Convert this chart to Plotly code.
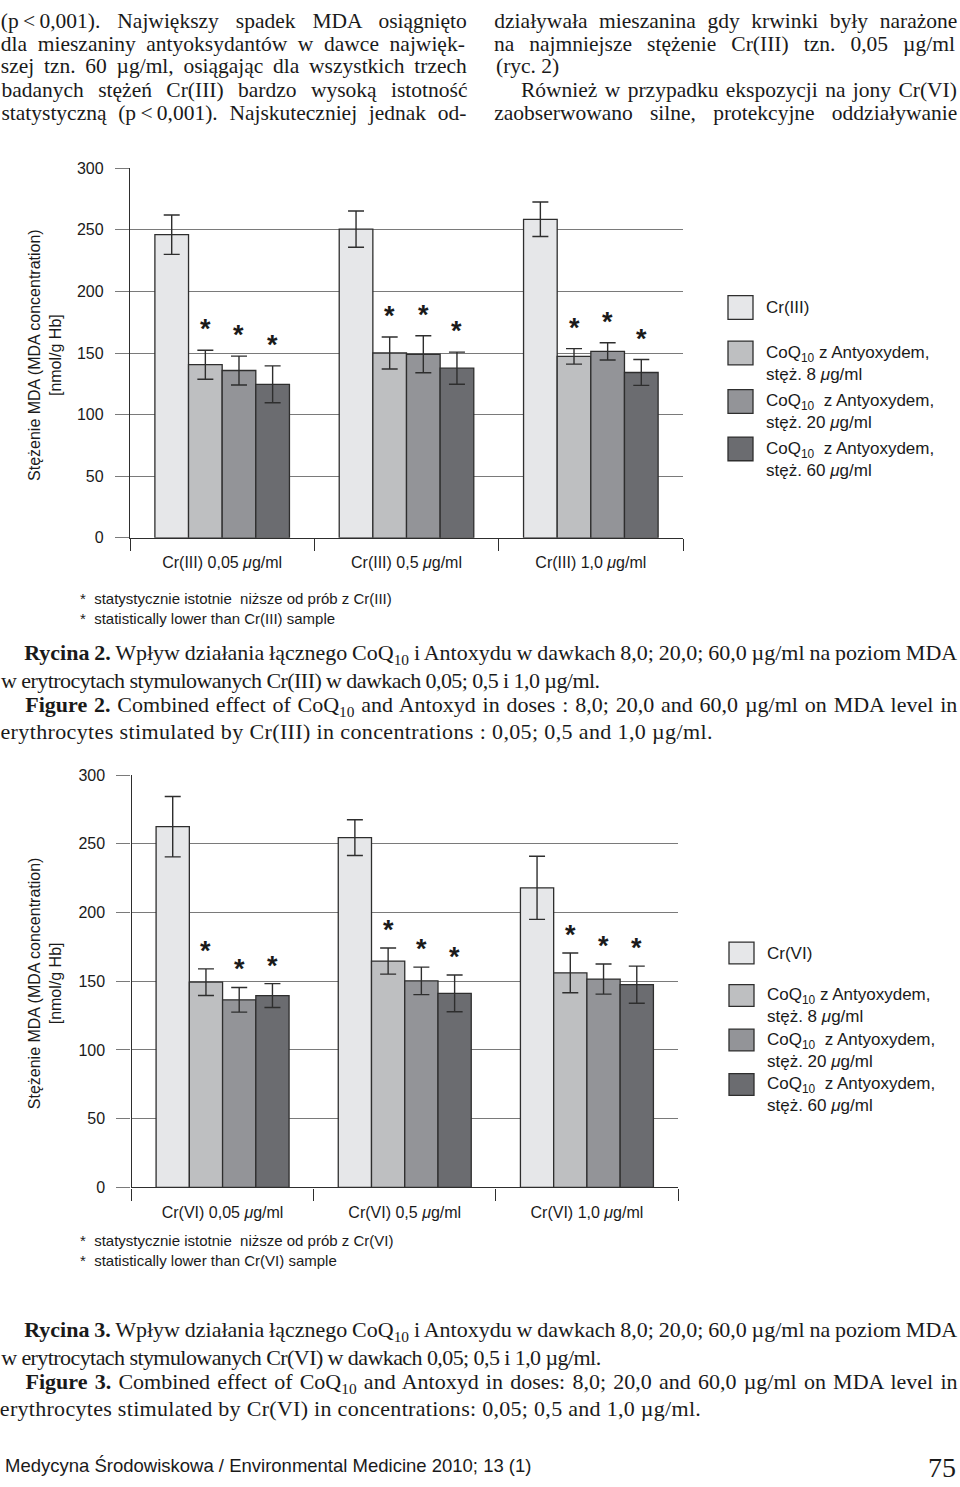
import json
import plotly.graph_objects as go

W, H = 960, 1487

# ---------------- data ----------------
series_labels = [
    "Cr(III)",
    "CoQ<sub>10</sub> z Antyoxydem,<br>stęż. 8 <i>μ</i>g/ml",
    "CoQ<sub>10</sub>  z Antyoxydem,<br>stęż. 20 <i>μ</i>g/ml",
    "CoQ<sub>10</sub>  z Antyoxydem,<br>stęż. 60 <i>μ</i>g/ml",
]
series_labels_vi = ["Cr(VI)"] + series_labels[1:]

cr3_categories = ["Cr(III) 0,05 <i>μ</i>g/ml", "Cr(III) 0,5 <i>μ</i>g/ml", "Cr(III) 1,0 <i>μ</i>g/ml"]
cr3_control = [246, 250.5, 258.5]
cr3_control_err = [16, 14.7, 14]
cr3_coq8 = [140.5, 150, 147.3]
cr3_coq8_err = [11.8, 13, 6.3]
cr3_coq20 = [135.8, 149, 151.3]
cr3_coq20_err = [11.7, 15, 7]
cr3_coq60 = [124.6, 137.7, 134.2]
cr3_coq60_err = [15, 13, 10.5]
cr3_signif = [[False] * 3, [True] * 3, [True] * 3, [True] * 3]

cr6_categories = ["Cr(VI) 0,05 <i>μ</i>g/ml", "Cr(VI) 0,5 <i>μ</i>g/ml", "Cr(VI) 1,0 <i>μ</i>g/ml"]
cr6_control = [262.5, 254.5, 218]
cr6_control_err = [22, 13, 23]
cr6_coq8 = [149.3, 164.7, 156.1]
cr6_coq8_err = [9.7, 9.5, 14.5]
cr6_coq20 = [136.5, 150.3, 151.6]
cr6_coq20_err = [9, 10, 11]
cr6_coq60 = [139.6, 141.2, 147.5]
cr6_coq60_err = [8.7, 13.4, 13.5]
cr6_signif = [[False] * 3, [True] * 3, [True] * 3, [True] * 3]

y_ticks = [0, 50, 100, 150, 200, 250, 300]

# ---------------- style ----------------
colors = ["#e6e7e9", "#bebfc1", "#939498", "#6b6c70"]
edge = "#2e2e2e"
grid = "#7a7a7a"
sans = "Liberation Sans, Arial, sans-serif"
serif = "Liberation Serif, Times New Roman, serif"
ink = "#1a1a1a"
BARGAP = 0.27
TS = "\u2009"  # thin space (not stretched by justification)


def px(x):
    return x / W


def py(y):
    return 1 - y / H


fig = go.Figure()
annotations = []
shapes = []
justify_widths = {}  # annotation index -> width, stretched by word spacing
fit_widths = {}      # annotation index -> width, fitted by letter spacing


def add_line(text, x0, x1, yc, family, size, mode):
    if mode == "left":
        annotations.append(dict(
            x=px(x0), y=py(yc), xref="paper", yref="paper", text=text,
            showarrow=False, xanchor="left", yanchor="middle",
            font=dict(family=family, size=size, color=ink),
        ))
        return
    annotations.append(dict(
        x=px((x0 + x1) / 2), y=py(yc), xref="paper", yref="paper", text=text,
        showarrow=False, xanchor="center", yanchor="middle",
        font=dict(family=family, size=size, color=ink),
    ))
    key = str(len(annotations) - 1)
    if mode == "justify":
        justify_widths[key] = x1 - x0
    else:
        fit_widths[key] = x1 - x0


def add_chart(idx, cats, means, errs, signif, xdom_px, ydom_px, star_shift, legend_labels,
              legend_x, legend_rows, legend_h, foot_y, foot_texts, cat_standoff):
    xa = "x" if idx == 1 else "x%d" % idx
    ya = "y" if idx == 1 else "y%d" % idx
    for k in range(4):
        fig.add_trace(go.Bar(
            x=cats, y=means[k], xaxis=xa, yaxis=ya,
            marker=dict(color=colors[k], line=dict(color=edge, width=1.3)),
            error_y=dict(type="data", array=errs[k], color=edge, thickness=1.4, width=8),
            showlegend=False, hoverinfo="skip",
        ))
    plot_w = xdom_px[1] - xdom_px[0]
    bar_w = plot_w / len(cats) * (1 - BARGAP) / 4
    for k in range(4):
        for i, c in enumerate(cats):
            if signif[k][i]:
                annotations.append(dict(
                    x=c, y=means[k][i] + errs[k][i], xref=xa, yref=ya,
                    text="<b>*</b>", showarrow=False, xanchor="center", yanchor="middle",
                    xshift=(k - 1.5) * bar_w, yshift=star_shift,
                    font=dict(family=sans, size=27, color=ink),
                ))
    axis_x = dict(
        domain=[px(xdom_px[0]), px(xdom_px[1])], type="category", categoryorder="array",
        categoryarray=cats, range=[-0.5, len(cats) - 0.5], showline=True, linecolor=edge,
        linewidth=1.3, ticks="outside", tickson="boundaries", ticklen=12, tickcolor=edge,
        tickwidth=1.3, showgrid=False, zeroline=False, anchor=ya,
        tickfont=dict(family=sans, size=16, color=ink), ticklabelstandoff=cat_standoff,
    )
    axis_y = dict(
        domain=[py(ydom_px[1]), py(ydom_px[0])], range=[0, 300], tickvals=y_ticks,
        showgrid=True, gridcolor=grid, gridwidth=1, ticks="outside", ticklen=14,
        tickcolor=grid, tickwidth=1, showline=True, linecolor=edge, linewidth=1.3,
        zeroline=False, anchor=xa, tickfont=dict(family=sans, size=16, color=ink),
        ticklabelstandoff=8,
    )
    fig.update_layout(**{("xaxis" if idx == 1 else "xaxis%d" % idx): axis_x,
                         ("yaxis" if idx == 1 else "yaxis%d" % idx): axis_y})
    # y title
    annotations.append(dict(
        x=px(45), y=py((ydom_px[0] + ydom_px[1]) / 2 + 2), xref="paper", yref="paper",
        text="Stężenie MDA (MDA concentration)<br>[nmol/g Hb]", textangle=-90,
        showarrow=False, xanchor="center", yanchor="middle",
        font=dict(family=sans, size=16, color=ink),
    ))
    # custom legend
    for k in range(4):
        top = legend_rows[k]
        shapes.append(dict(
            type="rect", xref="paper", yref="paper",
            x0=px(legend_x), x1=px(legend_x + 25), y0=py(top + legend_h), y1=py(top),
            fillcolor=colors[k], line=dict(color=edge, width=1.3),
        ))
        cy = top + legend_h / 2 + (0 if k == 0 else 10.5)
        annotations.append(dict(
            x=px(legend_x + 36), y=py(cy), xref="paper", yref="paper",
            text=legend_labels[k], showarrow=False, xanchor="left", yanchor="middle",
            align="left", font=dict(family=sans, size=17, color=ink),
        ))
    for j, t in enumerate(foot_texts):
        annotations.append(dict(
            x=px(78), y=py(foot_y[j]), xref="paper", yref="paper", text=t,
            showarrow=False, xanchor="left", yanchor="middle",
            font=dict(family=sans, size=15, color=ink),
        ))


add_chart(
    1, cr3_categories,
    [cr3_control, cr3_coq8, cr3_coq20, cr3_coq60],
    [cr3_control_err, cr3_coq8_err, cr3_coq20_err, cr3_coq60_err],
    cr3_signif, (130, 683), (162, 536), 21, series_labels,
    728, [291, 337, 386, 434], 24, [597, 618],
    ["*  statystycznie istotnie  niższe od prób z Cr(III)", "*  statistically lower than Cr(III) sample"],
    10,
)
add_chart(
    2, cr6_categories,
    [cr6_control, cr6_coq8, cr6_coq20, cr6_coq60],
    [cr6_control_err, cr6_coq8_err, cr6_coq20_err, cr6_coq60_err],
    cr6_signif, (131.5, 678), (776, 1193), 18, series_labels_vi,
    729, [945, 988, 1033, 1078], 22, [1247, 1267],
    ["*  statystycznie istotnie  niższe od prób z Cr(VI)", "*  statistically lower than Cr(VI) sample"],
    10,
)

# ---------------- page text ----------------
left_col = [
    "(p" + TS + "<" + TS + "0,001). Największy spadek MDA osiągnięto",
    "dla mieszaniny antyoksydantów w dawce najwięk-",
    "szej tzn. 60 µg/ml, osiągając dla wszystkich trzech",
    "badanych stężeń Cr(III) bardzo wysoką istotność",
    "statystyczną (p" + TS + "<" + TS + "0,001). Najskuteczniej jednak od-",
]
left_span = [(1, 467), (1, 465), (1, 467), (1, 467), (1, 466)]
right_col = [
    "działywała mieszanina gdy krwinki były narażone",
    "na najmniejsze stężenie Cr(III) tzn. 0,05 µg/ml",
    "(ryc. 2)",
    "Również w przypadku ekspozycji na jony Cr(VI)",
    "zaobserwowano silne, protekcyjne oddziaływanie",
]
right_span = [(494, 957), (494, 955), (494, 562), (521, 957), (494, 957)]
right_mode = ["justify", "justify", "left", "justify", "justify"]
body_y = [13, 36, 59, 83, 106]
for i, t in enumerate(left_col):
    add_line(t, left_span[i][0], left_span[i][1], body_y[i], serif, 21.5, "justify")
for i, t in enumerate(right_col):
    add_line(t, right_span[i][0], right_span[i][1], body_y[i], serif, 21.5, right_mode[i])

cap2 = [
    "<b>Rycina 2.</b> Wpływ działania łącznego CoQ<sub>10</sub> i Antoxydu w dawkach 8,0; 20,0; 60,0 µg/ml na poziom MDA",
    "w erytrocytach stymulowanych Cr(III) w dawkach 0,05; 0,5 i 1,0 µg/ml.",
    "<b>Figure 2.</b> Combined effect of CoQ<sub>10</sub> and Antoxyd in doses : 8,0; 20,0 and 60,0 µg/ml on MDA level in",
    "erythrocytes stimulated by Cr(III) in concentrations : 0,05; 0,5 and 1,0 µg/ml.",
]
cap2_span = [(24, 957), (1, 600), (25, 957), (0, 712)]
cap2_y = [653, 680, 706, 732]
cap3 = [
    "<b>Rycina 3.</b> Wpływ działania łącznego CoQ<sub>10</sub> i Antoxydu w dawkach 8,0; 20,0; 60,0 µg/ml na poziom MDA",
    "w erytrocytach stymulowanych Cr(VI) w dawkach 0,05; 0,5 i 1,0 µg/ml.",
    "<b>Figure 3.</b> Combined effect of CoQ<sub>10</sub> and Antoxyd in doses: 8,0; 20,0 and 60,0 µg/ml on MDA level in",
    "erythrocytes stimulated by Cr(VI) in concentrations: 0,05; 0,5 and 1,0 µg/ml.",
]
cap3_span = [(24, 957), (1, 601), (25, 957), (0, 701)]
cap3_y = [1338, 1365, 1391, 1417]
cap_mode = ["justify", "fit", "justify", "fit"]
for lines, spans, ys in ((cap2, cap2_span, cap2_y), (cap3, cap3_span, cap3_y)):
    for i, t in enumerate(lines):
        add_line(t, spans[i][0], spans[i][1], ys[i], serif, 22, cap_mode[i])

annotations.append(dict(x=px(3), y=py(1474), xref="paper", yref="paper",
                        text="Medycyna Środowiskowa / Environmental Medicine 2010; 13 (1)",
                        showarrow=False, xanchor="left", yanchor="middle",
                        font=dict(family=sans, size=18.5, color=ink)))
annotations.append(dict(x=px(958), y=py(1476), xref="paper", yref="paper", text="75",
                        showarrow=False, xanchor="right", yanchor="middle",
                        font=dict(family=serif, size=28, color=ink)))

fig.update_layout(
    width=W, height=H, margin=dict(l=0, r=0, t=0, b=0),
    paper_bgcolor="white", plot_bgcolor="white",
    barmode="group", bargap=BARGAP, bargroupgap=0,
    annotations=annotations, shapes=shapes, showlegend=False,
    font=dict(family=sans, color=ink),
)

post = """
document.body.style.margin = '0';
document.body.style.overflow = 'hidden';
var gd = document.getElementById('{plot_id}');
var JUST = %s;
var FIT = %s;
function fixText() {
  var groups = gd.querySelectorAll('g.annotation');
  groups.forEach(function (g) {
    var i = g.getAttribute('data-index');
    var t = g.querySelector('text.annotation-text');
    if (!t) { return; }
    if (Object.prototype.hasOwnProperty.call(JUST, i)) {
      t.style.wordSpacing = '0px';
      var nat = t.getComputedTextLength();
      var gaps = t.textContent.trim().match(/[ \\u00a0]+/g);
      var n = gaps ? gaps.length : 0;
      if (n > 0) { t.style.wordSpacing = ((JUST[i] - nat) / n).toFixed(2) + 'px'; }
    } else if (Object.prototype.hasOwnProperty.call(FIT, i)) {
      t.setAttribute('textLength', FIT[i]);
      t.setAttribute('lengthAdjust', 'spacing');
    }
  });
}
fixText();
setTimeout(fixText, 50);
if (gd.on) { gd.on('plotly_afterplot', fixText); }
""" % (json.dumps(justify_widths), json.dumps(fit_widths))

fig.write_html("out.html", post_script=post, config={"displayModeBar": False})
